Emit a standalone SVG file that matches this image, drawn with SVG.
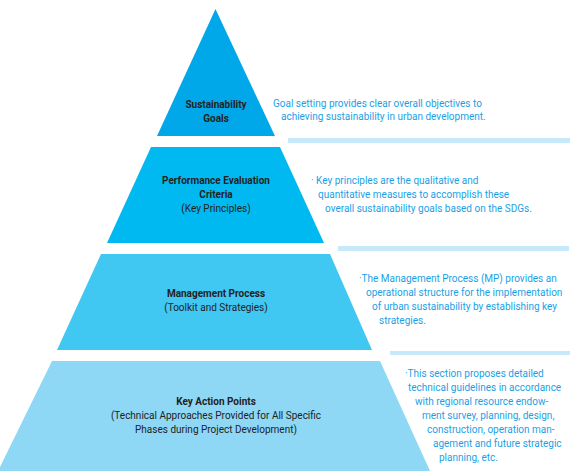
<svg xmlns="http://www.w3.org/2000/svg" width="573" height="471" viewBox="0 0 573 471">
<style>
.lbl{font-family:Roboto,"Liberation Sans",sans-serif;font-size:10px;fill:#222;text-anchor:middle}
.b{font-weight:bold}
.desc{font-family:Roboto,"Liberation Sans",sans-serif;font-size:10px;fill:#1a9fe6}
.bar{fill:#c6eafa}
</style>
<rect width="573" height="471" fill="#fff"/>
<g id="connectors">
<rect class="bar" x="288" y="138" width="282" height="5"/>
<rect class="bar" x="338" y="246" width="231" height="5"/>
<rect class="bar" x="390" y="351" width="180" height="4"/>
</g>
<g id="level1">
<polygon points="215.5,9 275,136 157,136" fill="#00a8ea"/>
<text class="lbl b" x="216" y="108">Sustainability</text>
<text class="lbl b" x="216" y="122">Goals</text>
</g>
<g id="level2">
<polygon points="151,147 280,147 324,243 107,243" fill="#00b9f0"/>
<text class="lbl b" x="216" y="184">Performance Evaluation</text>
<text class="lbl b" x="216" y="198">Criteria</text>
<text class="lbl" x="216" y="212">(Key Principles)</text>
</g>
<g id="level3">
<polygon points="101,254 330,254 372,350 57,350" fill="#40c7f2"/>
<text class="lbl b" x="216" y="297">Management Process</text>
<text class="lbl" x="216" y="311">(Toolkit and Strategies)</text>
</g>
<g id="level4">
<polygon points="52,361 380,361 430,471 -2,471" fill="#8ed8f6"/>
<text class="lbl b" x="216" y="405">Key Action Points</text>
<text class="lbl" x="216" y="419">(Technical Approaches Provided for All Specific</text>
<text class="lbl" x="216" y="433">Phases during Project Development)</text>
</g>
<g id="desc1">
<text class="desc" x="273" y="107">Goal setting provides clear overall objectives to</text>
<text class="desc" x="281" y="120">achieving sustainability in urban development.</text>
</g>
<g id="desc2">
<text class="desc" x="311" y="184">· Key principles are the qualitative and</text>
<text class="desc" x="318" y="198">quantitative measures to accomplish these</text>
<text class="desc" x="325" y="212">overall sustainability goals based on the SDGs.</text>
</g>
<g id="desc3">
<text class="desc" x="359" y="282">·The Management Process (MP) provides an</text>
<text class="desc" x="366" y="296">operational structure for the implementation</text>
<text class="desc" x="372" y="310">of urban sustainability by establishing key</text>
<text class="desc" x="379" y="324">strategies.</text>
</g>
<g id="desc4">
<text class="desc" x="405" y="377">·This section proposes detailed</text>
<text class="desc" x="408" y="391">technical guidelines in accordance</text>
<text class="desc" x="415" y="405">with regional resource endow-</text>
<text class="desc" x="422" y="419">ment survey, planning, design,</text>
<text class="desc" x="427" y="433">construction, operation man-</text>
<text class="desc" x="433" y="447">agement and future strategic</text>
<text class="desc" x="439" y="461">planning, etc.</text>
</g>
</svg>
